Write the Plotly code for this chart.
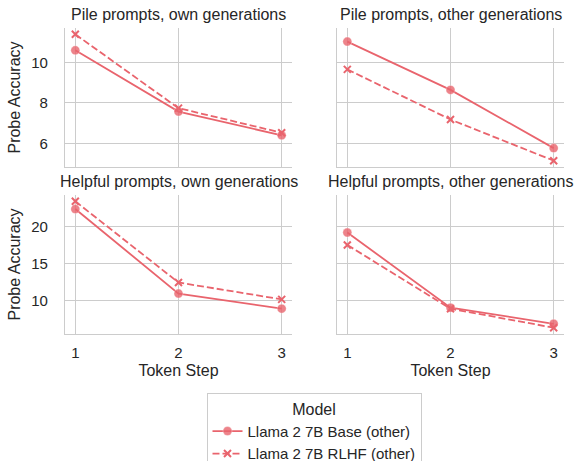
import plotly.graph_objects as go

steps = [1, 2, 3]
panel_titles = ["Pile prompts, own generations", "Pile prompts, other generations",
                "Helpful prompts, own generations", "Helpful prompts, other generations"]
base_vals = [
    [10.59, 7.57, 6.40],
    [11.02, 8.64, 5.77],
    [22.36, 10.91, 8.87],
    [19.18, 9.00, 6.82],
]
rlhf_vals = [
    [11.38, 7.74, 6.53],
    [9.65, 7.18, 5.15],
    [23.41, 12.41, 10.13],
    [17.50, 8.86, 6.29],
]
series_names = ["Llama 2 7B Base (other)", "Llama 2 7B RLHF (other)"]
legend_title = "Model"
x_title = "Token Step"
y_title = "Probe Accuracy"
yticks_top = [6, 8, 10]
yticks_bottom = [10, 15, 20]

W, H = 583, 461
COLOR = "#e9646d"
TXT = "#262626"
GRID = "#cccccc"
FONT = "Liberation Sans, Arial, sans-serif"

def px(x):
    return x / W

def py(y):
    return 1 - y / H

# pixel boxes for panels in window coordinates (left, right, top, bottom)
boxes = [(65, 292, 28, 167), (337, 564, 28, 167), (65, 292, 195, 334), (337, 564, 195, 334)]

fig = go.Figure()

def rng(vals):
    lo = min(min(v) for v in vals)
    hi = max(max(v) for v in vals)
    pad = (hi - lo) * 0.05
    return [lo - pad, hi + pad]

top_range = rng(base_vals[0:2] + rlhf_vals[0:2])
bot_range = rng(base_vals[2:4] + rlhf_vals[2:4])

for i in range(4):
    l, r, t, b = boxes[i]
    ax = "" if i == 0 else str(i + 1)
    xa = "x" + ax
    ya = "y" + ax
    fig.add_trace(go.Scatter(
        x=steps, y=base_vals[i], mode="lines+markers", xaxis=xa, yaxis=ya,
        name=series_names[0], legendgroup="b", showlegend=(i == 0),
        line=dict(color=COLOR, width=1.8, dash="solid"),
        marker=dict(symbol="circle", size=9, color="rgba(233,100,109,0.8)",
                    line=dict(color="rgba(255,255,255,0.4)", width=0.8)),
    ))
    fig.add_trace(go.Scatter(
        x=steps, y=rlhf_vals[i], mode="lines+markers", xaxis=xa, yaxis=ya,
        name=series_names[1], legendgroup="r", showlegend=(i == 0),
        line=dict(color=COLOR, width=1.8, dash="7px,3px"),
        marker=dict(symbol="x-thin", size=7, color=COLOR,
                    line=dict(color=COLOR, width=2)),
    ))
    row_top = i < 2
    xaxis = dict(
        domain=[px(l), px(r)], anchor=ya, range=[0.9, 3.1],
        tickvals=steps, ticktext=[str(s) for s in steps],
        showticklabels=not row_top, showgrid=True, gridcolor=GRID, gridwidth=1,
        showline=True, linecolor=GRID, linewidth=1.3, zeroline=False,
        ticks="", ticklabelstandoff=5, automargin=False,
        tickfont=dict(size=15, color=TXT, family=FONT),
    )
    if not row_top:
        xaxis["title"] = dict(text=x_title, font=dict(size=16, color=TXT, family=FONT), standoff=4)
    yaxis = dict(
        domain=[py(b), py(t)], anchor=xa,
        range=top_range if row_top else bot_range,
        tickvals=yticks_top if row_top else yticks_bottom,
        showticklabels=(i % 2 == 0), showgrid=True, gridcolor=GRID, gridwidth=1,
        showline=True, linecolor=GRID, linewidth=1.3, zeroline=False,
        ticks="", ticklabelstandoff=13, automargin=False,
        tickfont=dict(size=15, color=TXT, family=FONT),
    )
    if i % 2 == 0:
        yaxis["title"] = dict(text=y_title, font=dict(size=16, color=TXT, family=FONT), standoff=6)
    fig.layout["xaxis" + ax] = xaxis
    fig.layout["yaxis" + ax] = yaxis
    fig.add_annotation(
        text=panel_titles[i], x=px((l + r) / 2), y=py(t - 4),
        xref="paper", yref="paper", xanchor="center", yanchor="bottom",
        showarrow=False, borderpad=0, font=dict(size=16, color=TXT, family=FONT),
    )

fig.update_layout(
    width=W, height=H,
    margin=dict(l=0, r=0, t=0, b=0, autoexpand=False),
    paper_bgcolor="white", plot_bgcolor="white",
    font=dict(family=FONT, color=TXT),
    hovermode=False,
    legend=dict(
        title=dict(text=legend_title, side="top center", font=dict(size=16, color=TXT, family=FONT)),
        x=px(314), xanchor="center", y=py(393), yanchor="top",
        bordercolor=GRID, borderwidth=1, bgcolor="white",
        font=dict(size=15, color=TXT, family=FONT),
        itemwidth=30, tracegroupgap=0,
    ),
)

fig.write_html("out.html", config={"displayModeBar": False},
               post_script="document.body.style.margin='0';")
